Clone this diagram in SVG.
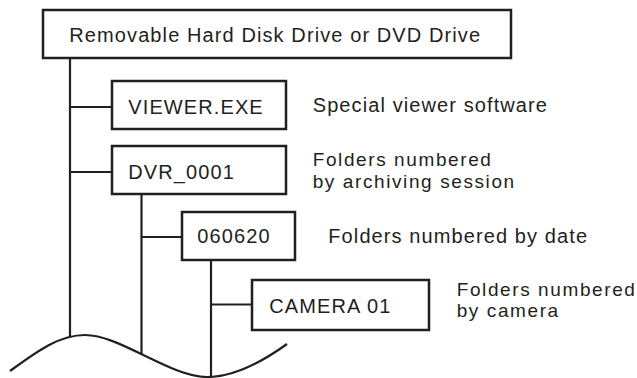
<svg xmlns="http://www.w3.org/2000/svg" width="637" height="378" viewBox="0 0 637 378">
<style>
.box{fill:#fff;stroke:#231f20;stroke-width:2.5}
.ln{fill:none;stroke:#231f20;stroke-width:2.2}
text{font-family:"Liberation Sans",Arial,sans-serif;font-size:20px;letter-spacing:1.1px;fill:#231f20}
text.two{font-size:19px;letter-spacing:1.6px}
</style>
<rect width="637" height="378" fill="#fff"/>
<g id="connectors">
<line class="ln" x1="70" y1="58" x2="70" y2="336"/>
<line class="ln" x1="70" y1="107" x2="112" y2="107"/>
<line class="ln" x1="70" y1="172" x2="112" y2="172"/>
<line class="ln" x1="141.5" y1="194" x2="141.5" y2="355"/>
<line class="ln" x1="141.5" y1="237" x2="182" y2="237"/>
<line class="ln" x1="211" y1="260" x2="211" y2="378"/>
<line class="ln" x1="211" y1="304.5" x2="252" y2="304.5"/>
<path class="ln" d="M10,371 C35,353 58,335 85,335 C120,335 170,377 207,377 C235,377 262,362 287,344"/>
</g>
<g id="root">
<rect class="box" x="43" y="10" width="468" height="48"/>
<text x="69.3" y="41.7">Removable Hard Disk Drive or DVD Drive</text>
</g>
<g id="viewer">
<rect class="box" x="112" y="81" width="174" height="48"/>
<text x="128.3" y="113.5">VIEWER.EXE</text>
<text x="312.7" y="111.7">Special viewer software</text>
</g>
<g id="dvr">
<rect class="box" x="112" y="146" width="174" height="48"/>
<text x="128.3" y="179.3">DVR_0001</text>
<text class="two" x="312.7" y="166.4">Folders numbered</text>
<text class="two" x="312.7" y="187.8">by archiving session</text>
</g>
<g id="date">
<rect class="box" x="182" y="212" width="113" height="48"/>
<text x="197.3" y="243.3">060620</text>
<text x="328.3" y="242.7">Folders numbered by date</text>
</g>
<g id="camera">
<rect class="box" x="252" y="280" width="177" height="50"/>
<text x="269.3" y="313.3">CAMERA 01</text>
<text class="two" x="456.7" y="295.8">Folders numbered</text>
<text class="two" x="456.7" y="317.2">by camera</text>
</g>
</svg>
